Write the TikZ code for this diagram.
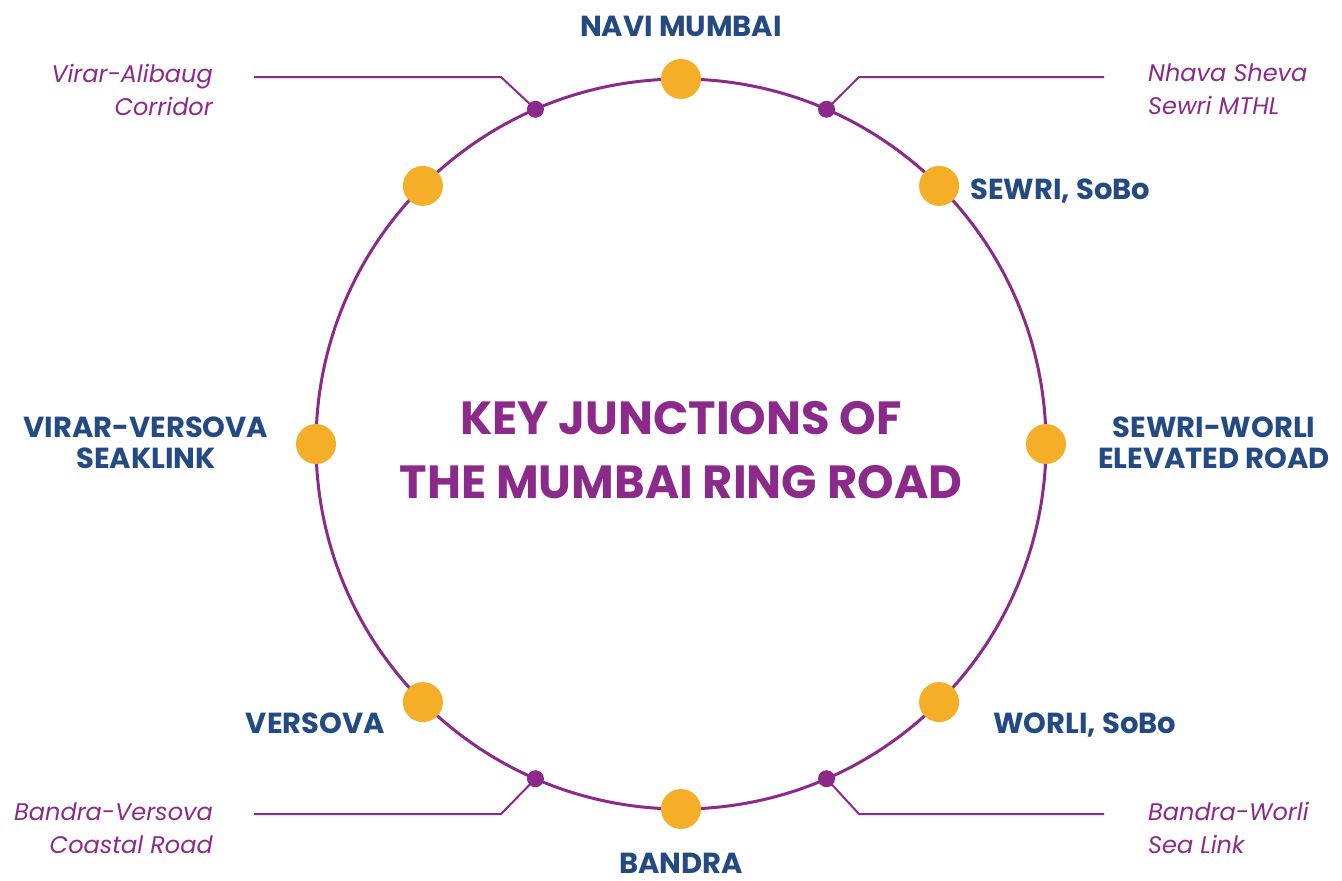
\documentclass[tikz,border=0pt]{standalone}
\usepackage{fontspec}
\setmainfont{Poppins}
\usetikzlibrary{calc}
\definecolor{rpurple}{HTML}{8B2A8A}
\definecolor{rblue}{HTML}{234A82}
\definecolor{rorange}{HTML}{F5AE28}
\begin{document}
\begin{tikzpicture}[x=1pt,y=1pt,
  ring/.style={draw=rpurple,line width=3pt},
  bigdot/.style={circle,fill=rorange,minimum size=40pt,inner sep=0pt},
  smalldot/.style={circle,fill=rpurple,minimum size=17pt,inner sep=0pt},
  leader/.style={draw=rpurple,line width=2pt},
  junction/.style={text=rblue,font=\fontsize{29}{31}\selectfont\bfseries,inner sep=0pt,align=center},
  route/.style={text=rpurple,font=\fontsize{24}{33}\selectfont\itshape,inner sep=0pt},
  title/.style={text=rpurple,font=\fontsize{46.5}{64}\selectfont\bfseries,inner sep=0pt,align=center}]
\useasboundingbox (0,0) rectangle (1342,-881);
\coordinate (c) at (681,-444);
\draw[ring] (c) circle (365);
% big junction dots
\foreach \a/\n in {90/dN,45/dNE,0/dE,-45/dSE,-90/dS,-135/dSW,180/dW,135/dNW}
  \node[bigdot] (\n) at ($(c)+(\a:365)$) {};
% small dots
\foreach \a/\n in {113.5/sNW,66.5/sNE,-113.5/sSW,-66.5/sSE}
  \node[smalldot] (\n) at ($(c)+(\a:365)$) {};
% leader corners
\coordinate (kNW) at (501,-77);
\coordinate (eNW) at (254,-77);
\coordinate (kNE) at (859,-77);
\coordinate (eNE) at (1104,-77);
\coordinate (kSW) at (501,-814);
\coordinate (eSW) at (254,-814);
\coordinate (kSE) at (859,-814);
\coordinate (eSE) at (1104,-814);
\draw[leader] (sNW.center) -- (kNW) -- (eNW);
\draw[leader] (sNE.center) -- (kNE) -- (eNE);
\draw[leader] (sSW.center) -- (kSW) -- (eSW);
\draw[leader] (sSE.center) -- (kSE) -- (eSE);
% title (base anchor = last line baseline)
\node[title,anchor=base] (t) at (681,-498) {KEY JUNCTIONS OF\\THE MUMBAI RING ROAD};
% junction labels
\node[junction,anchor=base] (lN) at (681,-36) {NAVI MUMBAI};
\node[junction,anchor=base west] (lNE) at (970,-199) {SEWRI, SoBo};
\node[junction,anchor=base] (lE) at (1214,-468) {SEWRI-WORLI\\ELEVATED ROAD};
\node[junction,anchor=base west] (lSE) at (993,-733) {WORLI, SoBo};
\node[junction,anchor=base] (lS) at (681,-873) {BANDRA};
\node[junction,anchor=base east] (lSW) at (385,-733) {VERSOVA};
\node[junction,anchor=base] (lW) at (146,-468) {VIRAR-VERSOVA\\SEAKLINK};
% route labels
\node[route,anchor=base east,align=right] (rNW) at (213,-115) {Virar-Alibaug\\Corridor};
\node[route,anchor=base west,align=left] (rNE) at (1148,-114) {Nhava Sheva\\Sewri MTHL};
\node[route,anchor=base east,align=right] (rSW) at (213,-853) {Bandra-Versova\\Coastal Road};
\node[route,anchor=base west,align=left] (rSE) at (1148,-853) {Bandra-Worli\\Sea Link};
\end{tikzpicture}
\end{document}
